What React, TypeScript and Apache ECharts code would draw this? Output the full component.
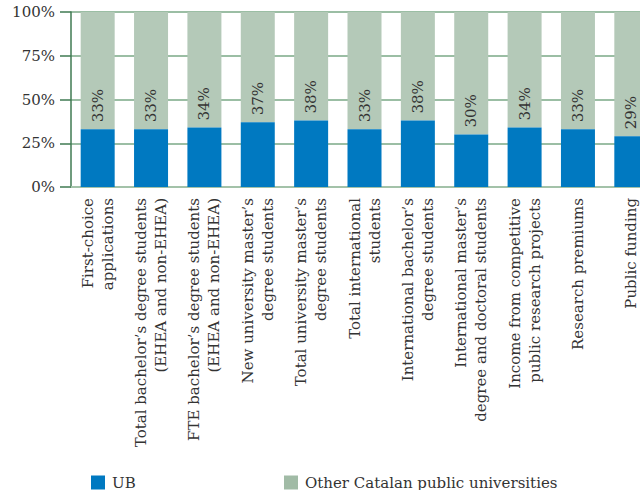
import React, { useEffect, useRef } from "react";
import * as echarts from "echarts";

const categories = [
  "First-choice\napplications",
  "Total bachelor’s degree students\n(EHEA and non-EHEA)",
  "FTE bachelor’s degree students\n(EHEA and non-EHEA)",
  "New university master’s\ndegree students",
  "Total university master’s\ndegree students",
  "Total international\nstudents",
  "International bachelor’s\ndegree students",
  "International master’s\ndegree and doctoral students",
  "Income from competitive\npublic research projects",
  "Research premiums",
  "Public funding",
];
const ubValues = [33, 33, 34, 37, 38, 33, 38, 30, 34, 33, 29];
const otherValues = ubValues.map((v) => 100 - v);
const yTicks = [0, 25, 50, 75, 100];
const seriesNames = ["UB", "Other Catalan public universities"];

const FONT = "'DejaVu Serif', 'Liberation Serif', serif";
const BLUE = "#0079c1";
const GREEN = "#b4c9b8";
const GREEN_LEGEND = "#a1bba6";

export default function App() {
  const ref = useRef<HTMLDivElement>(null);
  useEffect(() => {
    if (!ref.current) return;
    const chart = echarts.init(ref.current, null, { renderer: "svg" });
    const legendText = { fontFamily: FONT, fontSize: 15, color: "#333", padding: [4, 0, 0, 2] };
    chart.setOption({
      animation: false,
      textStyle: { fontFamily: FONT },
      grid: { left: 71, top: 12, bottom: 303, right: 0, containLabel: false },
      legend: [
        {
          left: 91,
          top: 475,
          itemWidth: 14,
          itemHeight: 14,
          itemGap: 0,
          icon: "rect",
          data: [{ name: seriesNames[0], itemStyle: { color: BLUE } }],
          textStyle: legendText,
          padding: 0,
        },
        {
          left: 284,
          top: 475,
          itemWidth: 14,
          itemHeight: 14,
          itemGap: 0,
          icon: "rect",
          data: [{ name: seriesNames[1], itemStyle: { color: GREEN_LEGEND } }],
          textStyle: legendText,
          padding: 0,
        },
      ],
      xAxis: {
        type: "category",
        data: categories,
        axisTick: { show: false },
        axisLine: { show: true, lineStyle: { color: "#a3c2a9", width: 2 } },
        axisLabel: {
          interval: 0,
          rotate: 90,
          margin: 11,
          fontFamily: FONT,
          fontSize: 15,
          lineHeight: 20,
          color: "#333",
        },
      },
      yAxis: {
        type: "value",
        min: 0,
        max: 100,
        interval: 25,
        axisLine: { show: true, lineStyle: { color: "#3f7a52", width: 1.5 } },
        axisTick: { show: true, length: 11, lineStyle: { color: "#3f7a52", width: 1.5 } },
        splitLine: { show: true, lineStyle: { color: "#7aa886", width: 1.5 } },
        axisLabel: {
          margin: 16,
          fontFamily: FONT,
          fontSize: 15,
          color: "#333",
          formatter: (v: number) => (yTicks.includes(v) ? v + "%" : ""),
        },
      },
      series: [
        {
          name: seriesNames[0],
          type: "bar",
          stack: "total",
          barWidth: 34,
          data: ubValues,
          itemStyle: { color: BLUE },
          label: {
            show: true,
            position: "top",
            rotate: 90,
            align: "left",
            verticalAlign: "middle",
            distance: 7,
            fontFamily: FONT,
            fontSize: 15,
            color: "#333",
            formatter: "{c}%",
          },
          z: 3,
        },
        {
          name: seriesNames[1],
          type: "bar",
          stack: "total",
          barWidth: 34,
          data: otherValues,
          itemStyle: { color: GREEN },
          z: 2,
        },
      ],
    });
    return () => chart.dispose();
  }, []);
  return (
    <div style={{ position: "fixed", left: 0, top: 0, width: 640, height: 490, overflow: "hidden", background: "#fff" }}>
      <div ref={ref} style={{ width: 658, height: 490 }} />
    </div>
  );
}
